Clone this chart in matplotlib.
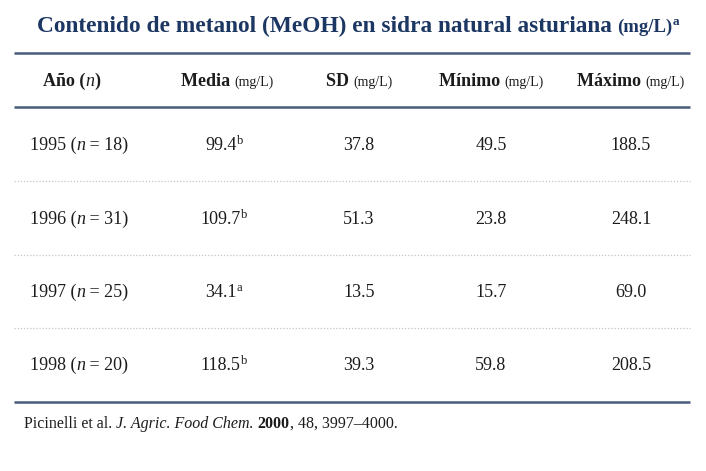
import matplotlib
matplotlib.use("Agg")
import matplotlib.pyplot as plt

# table data
title = "Contenido de metanol (MeOH) en sidra natural asturiana"
years = ["1995", "1996", "1997", "1998"]
n_vals = [18, 31, 25, 20]
media = ["99.4", "109.7", "34.1", "118.5"]
media_sup = ["b", "b", "a", "b"]
sd = ["37.8", "51.3", "13.5", "39.3"]
minimo = ["49.5", "23.8", "15.7", "59.8"]
maximo = ["188.5", "248.1", "69.0", "208.5"]
headers = ["Media", "SD", "Mínimo", "Máximo"]

W, H = 706, 471
NAVY = "#1d3763"
LINE = "#485b7c"
TXT = "#1c1c1c"
FONT = "Liberation Serif"

fig = plt.figure(figsize=(W / 100, H / 100), dpi=100, facecolor="white")
ax = fig.add_axes([0, 0, 1, 1])
ax.set_xlim(0, W)
ax.set_ylim(H, 0)
ax.axis("off")
fig.canvas.draw()
renderer = fig.canvas.get_renderer()


def runs_text(x, y, runs, ha="center"):
    # runs: list of (text, size, weight, style, dy, color)
    objs = []
    widths = []
    for s, size, weight, style, dy, color in runs:
        t = ax.text(0, y - dy, s, fontsize=size, fontweight=weight, fontstyle=style,
                    family=FONT, color=color, va="baseline", ha="left")
        widths.append(t.get_window_extent(renderer).width)
        objs.append(t)
    total = sum(widths)
    x0 = x - total / 2 if ha == "center" else x
    for t, w in zip(objs, widths):
        t.set_x(x0)
        x0 += w


# title
runs_text(358, 32, [(title + " ", 16.8, "bold", "normal", 0, NAVY),
                    ("(mg/L)", 13.5, "bold", "normal", 0, NAVY),
                    ("a", 9.5, "bold", "normal", 7, NAVY)])

# rules
ax.plot([14, 690], [53, 53], color=LINE, lw=1.8, solid_capstyle="butt")
ax.plot([14, 690], [107, 107], color=LINE, lw=1.8, solid_capstyle="butt")
ax.plot([14, 690], [402, 402], color=LINE, lw=1.8, solid_capstyle="butt")

col_x = [79, 224, 359, 491, 631]

# header
hy = 86
runs_text(72, hy, [("Año (", 13, "bold", "normal", 0, TXT),
                   ("n", 13, "normal", "italic", 0, TXT),
                   (")", 13, "bold", "normal", 0, TXT)])
for cx, h in zip([227, 359, 491, 631], headers):
    runs_text(cx, hy, [(h + " ", 13, "bold", "normal", 0, TXT),
                       ("(mg/L)", 10, "normal", "normal", 0, TXT)])

row_y = [150, 224, 297, 370]
for i, ry in enumerate(row_y):
    runs_text(col_x[0], ry, [(years[i] + " (", 13, "normal", "normal", 0, TXT),
                             ("n", 13, "normal", "italic", 0, TXT),
                             (" = %d)" % n_vals[i], 13, "normal", "normal", 0, TXT)])
    runs_text(col_x[1], ry, [(media[i], 13, "normal", "normal", 0, TXT),
                             (media_sup[i], 9, "normal", "normal", 6, TXT)])
    for cx, v in zip(col_x[2:], [sd[i], minimo[i], maximo[i]]):
        runs_text(cx, ry, [(v, 13, "normal", "normal", 0, TXT)])
    if i < len(row_y) - 1:
        ax.plot([14, 690], [ry + 31, ry + 31], color="#c4c4c4", lw=0.9,
                linestyle=(0, (1, 1.5)))

# citation
runs_text(24, 428, [("Picinelli et al. ", 11.5, "normal", "normal", 0, TXT),
                    ("J. Agric. Food Chem.", 11.5, "normal", "italic", 0, TXT),
                    (" ", 11.5, "normal", "normal", 0, TXT),
                    ("2000", 11.5, "bold", "normal", 0, TXT),
                    (", 48, 3997\u20134000.", 11.5, "normal", "normal", 0, TXT)], ha="left")

fig.savefig("out.png", dpi=100, facecolor="white")
